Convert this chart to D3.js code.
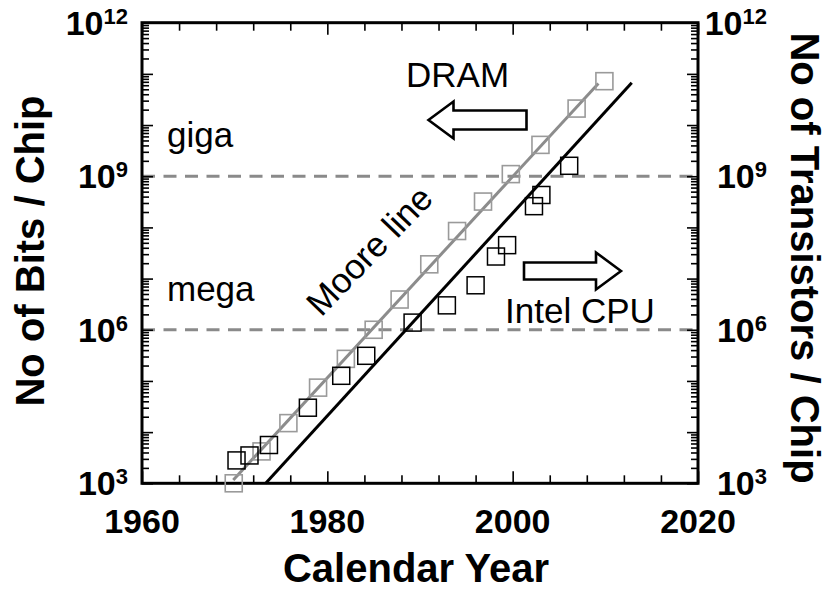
<!DOCTYPE html>
<html>
<head>
<meta charset="utf-8">
<script src="https://cdn.jsdelivr.net/npm/d3@7"></script>
<style>
  html, body { margin: 0; padding: 0; background: #fff; }
  svg { display: block; font-family: "Liberation Sans", Arial, Helvetica, sans-serif; }
</style>
</head>
<body>
<svg id="chart" width="831" height="589"></svg>
<script>
// DRAM capacity (bits per chip) by year of introduction
const dramYears = [1969.9, 1972.9, 1975.8, 1979, 1982, 1985, 1987.8, 1991, 1994, 1996.8, 1999.8, 2003, 2006.9, 2009.9];
const dramBits  = [1.0e3, 4.2e3, 1.5e4, 7.4e4, 2.7e5, 1.0e6, 3.9e6, 1.9e7, 8.5e7, 3.2e8, 1.1e9, 4.1e9, 2.1e10, 7.2e10];

// Intel CPU transistor counts by year
const cpuYears       = [1970.2, 1971.6, 1973.7, 1977.9, 1981.5, 1984.2, 1989.2, 1992.9, 1996, 1998.2, 1999.4, 2002.3, 2003.1, 2006.1];
const cpuTransistors = [2.8e3, 3.5e3, 5.6e3, 3.0e4, 1.26e5, 3.1e5, 1.38e6, 3.0e6, 7.4e6, 2.7e7, 4.5e7, 2.6e8, 4.3e8, 1.6e9];

// Trend lines: fit through the DRAM points, and the Moore line
const dramFitYears  = [1969.85, 2009.25];
const dramFitValues = [1.16e3, 6.5e10];
const mooreYears    = [1973.35, 2012.85];
const mooreValues   = [1.0e3, 6.7e10];

// Reference levels
const levelValues = [1e6, 1e9];
const levelLabels = ["mega", "giga"];

// Axis ticks
const yearTicks      = [1960, 1980, 2000, 2020];
const yearMinorTicks = [1964, 1968, 1972, 1976, 1984, 1988, 1992, 1996, 2004, 2008, 2012, 2016];
const decadeExponents = [3, 6, 9, 12];

const svg = d3.select("#chart");
const plotL = 142, plotR = 698, plotT = 22.7, plotB = 483.3;

const x = d3.scaleLinear().domain([1960, 2020]).range([plotL, plotR]);
const y = d3.scaleLog().domain([1e3, 1e12]).range([plotB, plotT]);

// Log ticks: every decade (major) plus 2..9 multiples (minor)
const majorY = d3.range(3, 13).map(e => Math.pow(10, e));
const minorY = [];
d3.range(3, 12).forEach(e => { for (let k = 2; k <= 9; k++) minorY.push(k * Math.pow(10, e)); });

const MAJ = 11, MIN = 7;

// Dashed reference levels
svg.append("g").selectAll("line").data(levelValues).join("line")
  .attr("x1", plotL).attr("x2", plotR)
  .attr("y1", d => y(d)).attr("y2", d => y(d))
  .attr("stroke", "#8a8a8a").attr("stroke-width", 3)
  .attr("stroke-dasharray", "13,8.5");

// Axes with inward ticks on all four sides
function inward(axis, size) { return axis.tickSizeInner(-size).tickSizeOuter(0).tickFormat(""); }
const axes = svg.append("g").attr("class", "axes");
function styleAxis(g) {
  g.select(".domain").remove();
  g.selectAll(".tick line").attr("stroke", "#000").attr("stroke-width", 1.6);
}
axes.append("g").attr("transform", `translate(0,${plotB})`)
  .call(inward(d3.axisBottom(x).tickValues(yearTicks), MAJ + 1)).call(styleAxis);
axes.append("g").attr("transform", `translate(0,${plotB})`)
  .call(inward(d3.axisBottom(x).tickValues(yearMinorTicks), MIN + 1)).call(styleAxis);
axes.append("g").attr("transform", `translate(0,${plotT})`)
  .call(inward(d3.axisTop(x).tickValues(yearTicks), MAJ + 1)).call(styleAxis);
axes.append("g").attr("transform", `translate(0,${plotT})`)
  .call(inward(d3.axisTop(x).tickValues(yearMinorTicks), MIN + 1)).call(styleAxis);
axes.append("g").attr("transform", `translate(${plotL},0)`)
  .call(inward(d3.axisLeft(y).tickValues(majorY), MAJ)).call(styleAxis);
axes.append("g").attr("transform", `translate(${plotL},0)`)
  .call(inward(d3.axisLeft(y).tickValues(minorY), MIN)).call(styleAxis);
axes.append("g").attr("transform", `translate(${plotR},0)`)
  .call(inward(d3.axisRight(y).tickValues(majorY), MAJ)).call(styleAxis);
axes.append("g").attr("transform", `translate(${plotR},0)`)
  .call(inward(d3.axisRight(y).tickValues(minorY), MIN)).call(styleAxis);

// Frame
svg.append("rect").attr("x", plotL).attr("y", plotT)
  .attr("width", plotR - plotL).attr("height", plotB - plotT)
  .attr("fill", "none").attr("stroke", "#000").attr("stroke-width", 3);

// Trend lines
const line = d3.line().x(d => x(d[0])).y(d => y(d[1]));
svg.append("path").datum(dramFitYears.map((t, i) => [t, dramFitValues[i]]))
  .attr("d", line).attr("fill", "none").attr("stroke", "#8c8c8c").attr("stroke-width", 3);
svg.append("path").datum(mooreYears.map((t, i) => [t, mooreValues[i]]))
  .attr("d", line).attr("fill", "none").attr("stroke", "#000").attr("stroke-width", 3);

// Markers
const S = 17;
svg.append("g").selectAll("rect").data(dramYears.map((t, i) => [t, dramBits[i]])).join("rect")
  .attr("x", d => x(d[0]) - S / 2).attr("y", d => y(d[1]) - S / 2)
  .attr("width", S).attr("height", S)
  .attr("fill", "none").attr("stroke", "#9a9a9a").attr("stroke-width", 1.6);
svg.append("g").selectAll("rect").data(cpuYears.map((t, i) => [t, cpuTransistors[i]])).join("rect")
  .attr("x", d => x(d[0]) - S / 2).attr("y", d => y(d[1]) - S / 2)
  .attr("width", S).attr("height", S)
  .attr("fill", "none").attr("stroke", "#000").attr("stroke-width", 1.5);

// Tick labels
const tickFont = 34, supFont = 22;
svg.append("g").selectAll("text").data(yearTicks).join("text")
  .attr("x", d => x(d)).attr("y", 533)
  .attr("text-anchor", "middle").attr("font-weight", "bold").attr("font-size", tickFont)
  .text(d => d);

function powerLabel(g, xPos, anchor) {
  g.selectAll("text").data(decadeExponents).join("text")
    .attr("x", xPos).attr("y", d => y(Math.pow(10, d)) + 12)
    .attr("text-anchor", anchor).attr("font-weight", "bold").attr("font-size", tickFont)
    .each(function (d) {
      const t = d3.select(this);
      t.append("tspan").text("10");
      t.append("tspan").attr("font-size", supFont).attr("dy", -11).text(d);
    });
}
powerLabel(svg.append("g"), 128, "end");
powerLabel(svg.append("g"), 767, "end");

// Axis titles
svg.append("text").attr("transform", "translate(43.5,251) rotate(-90)")
  .attr("text-anchor", "middle").attr("font-weight", "bold").attr("font-size", 40)
  .text("No of Bits / Chip");
svg.append("text").attr("transform", "translate(791,258) rotate(90)")
  .attr("text-anchor", "middle").attr("font-weight", "bold").attr("font-size", 40)
  .text("No of Transistors / Chip");
svg.append("text").attr("x", 416).attr("y", 582)
  .attr("text-anchor", "middle").attr("font-weight", "bold").attr("font-size", 40)
  .text("Calendar Year");

// Annotations
const annFont = 35;
svg.append("g").selectAll("text").data(levelValues).join("text")
  .attr("x", 167).attr("y", d => y(d) - 29)
  .attr("font-size", annFont).text((d, i) => levelLabels[i]);
svg.append("text").attr("x", 406).attr("y", 87).attr("font-size", annFont).text("DRAM");
svg.append("text").attr("x", 505).attr("y", 322.5).attr("font-size", annFont).text("Intel CPU");
svg.append("text").attr("transform", "translate(378,259) rotate(-46)")
  .attr("text-anchor", "middle").attr("font-size", annFont).text("Moore line");

// Hollow block arrows pointing to each series' axis
function blockArrow(tipX, tipY, dir, len, shaftH, headH, headL) {
  const s = dir;
  const pts = [
    [tipX, tipY],
    [tipX - s * headL, tipY - headH / 2],
    [tipX - s * headL, tipY - shaftH / 2],
    [tipX - s * len, tipY - shaftH / 2],
    [tipX - s * len, tipY + shaftH / 2],
    [tipX - s * headL, tipY + shaftH / 2],
    [tipX - s * headL, tipY + headH / 2]
  ];
  svg.append("polygon").attr("points", pts.map(p => p.join(",")).join(" "))
    .attr("fill", "#fff").attr("stroke", "#000").attr("stroke-width", 2.6)
    .attr("stroke-linejoin", "miter");
}
blockArrow(428.5, 120, -1, 98, 19, 37, 25);
blockArrow(621, 271, 1, 97, 17, 37, 25);
</script>
</body>
</html>
